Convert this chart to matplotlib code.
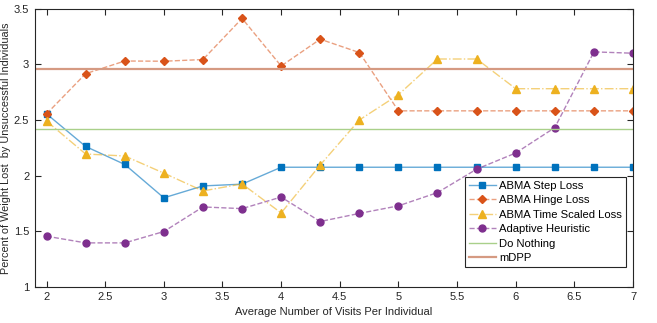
import numpy as np
import matplotlib
matplotlib.use("Agg")
import matplotlib.pyplot as plt

plt.rcParams['font.family'] = ['Liberation Sans', 'DejaVu Sans']

# visitas promedio por individuo
visits = [2, 2.333, 2.667, 3, 3.333, 3.667, 4, 4.333, 4.667, 5, 5.333, 5.667, 6, 6.333, 6.667, 7]

step_loss = [2.555, 2.262, 2.100, 1.80, 1.907, 1.923, 2.075, 2.075, 2.075, 2.075, 2.075, 2.075, 2.075, 2.075, 2.075, 2.075]
hinge_loss = [2.555, 2.916, 3.03, 3.028, 3.043, 3.413, 2.985, 3.226, 3.106, 2.582, 2.582, 2.582, 2.582, 2.582, 2.582, 2.582]
time_scaled = [2.49, 2.194, 2.176, 2.022, 1.862, 1.925, 1.664, 2.095, 2.50, 2.727, 3.048, 3.048, 2.781, 2.781, 2.781, 2.781]
adaptive = [1.455, 1.395, 1.395, 1.497, 1.718, 1.703, 1.807, 1.587, 1.66, 1.728, 1.847, 2.058, 2.203, 2.431, 3.112, 3.10]
do_nothing = 2.422
mdpp = 2.958

fig = plt.figure(figsize=(6.57, 3.23), dpi=100)
ax = fig.add_axes([0.053, 0.112, 0.9105, 0.861])

ax.plot(visits, step_loss, '-s', color=(0.0, 0.447, 0.741, 0.6), lw=1.0,
        mfc='#0072BD', mec='#0072BD', ms=4, label='ABMA Step Loss')
ax.plot(visits, hinge_loss, '--D', color=(0.85, 0.325, 0.098, 0.55), lw=1.0,
        mfc='#D95319', mec='#D95319', ms=4.5, label='ABMA Hinge Loss')
ax.plot(visits, time_scaled, '-.^', color=(0.929, 0.694, 0.125, 0.6), lw=1.0,
        mfc='#EDB120', mec='#EDB120', ms=6, label='ABMA Time Scaled Loss')
ax.plot(visits, adaptive, '--o', color=(0.494, 0.184, 0.557, 0.6), lw=1.0,
        mfc='#7E2F8E', mec='#7E2F8E', ms=5, label='Adaptive Heuristic')
ax.axhline(do_nothing, color='#A9D08A', lw=1.0, label='Do Nothing')
ax.axhline(mdpp, color='#D59A82', lw=1.6, label='mDPP')

ax.set_xlim(1.9, 7)
ax.set_ylim(1, 3.5)
ax.set_xticks(np.arange(2, 7.01, 0.5))
ax.set_xticklabels(['2', '2.5', '3', '3.5', '4', '4.5', '5', '5.5', '6', '6.5', '7'])
ax.set_yticks(np.arange(1, 3.51, 0.5))
ax.set_yticklabels(['1', '1.5', '2', '2.5', '3', '3.5'])
ax.tick_params(direction='in', top=True, right=True, length=4, width=0.8,
               labelsize=8, colors='#262626', pad=4)
for s in ax.spines.values():
    s.set_color('#262626')
    s.set_linewidth(0.8)

ax.set_xlabel('Average Number of Visits Per Individual', fontsize=8, color='#262626', labelpad=3)
ax.set_ylabel('Percent of Weight Lost  by Unsuccessful Individuals', fontsize=7.8, color='#262626', labelpad=2)

leg = ax.legend(loc='upper right', bbox_to_anchor=(0.988, 0.396), fontsize=8.1,
                fancybox=False, framealpha=1, edgecolor='#262626',
                borderpad=0.35, labelspacing=0.4, handlelength=2.4, handletextpad=0.3,
                borderaxespad=0)
leg.get_frame().set_linewidth(0.8)

fig.savefig('out.png', dpi=100)
